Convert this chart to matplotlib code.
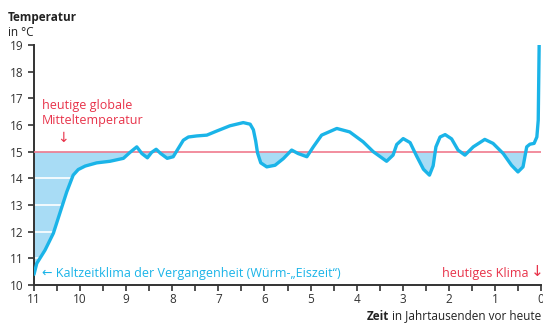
import numpy as np
import matplotlib.pyplot as plt

# Daten (Jahrtausende vor heute, Temperatur in °C)
zeit = [11.0, 10.94, 10.76, 10.58, 10.44, 10.29, 10.15, 10.04, 9.89, 9.64,
        9.35, 9.06, 8.92, 8.77, 8.66, 8.54, 8.45, 8.35, 8.25, 8.11,
        7.98, 7.87, 7.76, 7.65, 7.47, 7.25, 7.04, 6.75, 6.46, 6.31,
        6.24, 6.19, 6.15, 6.08, 5.95, 5.77, 5.59, 5.41, 5.27, 5.08,
        4.94, 4.76, 4.43, 4.15, 3.86, 3.64, 3.35, 3.21, 3.13, 2.99,
        2.84, 2.7, 2.55, 2.42, 2.34, 2.28, 2.19, 2.08, 1.94, 1.8,
        1.65, 1.47, 1.22, 1.04, 0.82, 0.64, 0.5, 0.39, 0.31, 0.24,
        0.15, 0.09, 0.06, 0.04]
temp = [10.4, 10.81, 11.31, 11.94, 12.69, 13.49, 14.12, 14.33, 14.46, 14.58,
        14.64, 14.75, 14.97, 15.18, 14.93, 14.77, 14.97, 15.09, 14.93, 14.75,
        14.81, 15.12, 15.43, 15.55, 15.59, 15.62, 15.77, 15.97, 16.09, 16.03,
        15.82, 15.4, 14.95, 14.58, 14.43, 14.49, 14.74, 15.06, 14.93, 14.81,
        15.18, 15.62, 15.87, 15.74, 15.37, 15.0, 14.64, 14.87, 15.27, 15.49,
        15.34, 14.84, 14.34, 14.12, 14.47, 15.18, 15.55, 15.64, 15.48, 15.06,
        14.87, 15.18, 15.46, 15.31, 14.93, 14.49, 14.24, 14.43, 15.18, 15.28,
        15.31, 15.55, 16.18, 19.0]
mittel = 15
yticks = [10, 11, 12, 13, 14, 15, 16, 17, 18, 19]
xticks = [11, 10, 9, 8, 7, 6, 5, 4, 3, 2, 1, 0]

blau = '#1ab4e8'
hellblau = '#a8dcf5'
rot = '#f07a8e'
textrot = '#e8334a'
grau = '#333333'

W, H = 543, 325
fig = plt.figure(figsize=(W / 100, H / 100), dpi=100)
plt.rcParams['font.family'] = ['Open Sans', 'DejaVu Sans']
ax = fig.add_axes([34 / W, 1 - 285 / H, 507 / W, 240 / H])

x = np.array(zeit)
y = np.array(temp)
ax.fill_between(x, y, mittel, where=y < mittel, interpolate=True,
                color=hellblau, lw=0, zorder=1)
for t in yticks[1:5]:
    ax.axhline(t, color='white', lw=1.2, zorder=2)
ax.axhline(mittel, color=rot, lw=1.2, zorder=3)
ax.plot(x, y, color=blau, lw=2.4, zorder=4, solid_capstyle='round',
        solid_joinstyle='round')

ax.set_xlim(11, 0)
ax.set_ylim(10, 19)
ax.set_xticks(xticks)
ax.set_xticks(np.arange(0.5, 11, 1), minor=True)
ax.set_yticks(yticks)
for s in ['top', 'right']:
    ax.spines[s].set_visible(False)
for s in ['left', 'bottom']:
    ax.spines[s].set_color(grau)
    ax.spines[s].set_linewidth(1.4)
ax.tick_params(axis='both', which='both', length=4, width=1.2, color=grau,
               labelsize=8.5, labelcolor=grau)
ax.tick_params(axis='x', pad=2)

def ftext(px, py, s, **kw):
    return fig.text(px / W, 1 - py / H, s, **kw)

ftext(8, 17, 'Temperatur', fontsize=8.5, fontweight='bold', color='#222222', va='center')
ftext(8, 33, 'in °C', fontsize=8.5, color='#222222', va='center')
ftext(42, 106, 'heutige globale', fontsize=9, color=textrot, va='center')
ftext(42, 121, 'Mitteltemperatur', fontsize=9, color=textrot, va='center')
ftext(63, 138, '↓', fontsize=10, color=textrot, va='center', ha='center',
      family=['DejaVu Sans'])
ftext(42, 273, '← Kaltzeitklima der Vergangenheit (Würm-„Eiszeit“)', fontsize=9,
      color=blau, va='center')
ftext(529, 273, 'heutiges Klima', fontsize=9, color=textrot, va='center', ha='right')
ftext(537.5, 272, '↓', fontsize=11, color=textrot, va='center', ha='center',
      family=['DejaVu Sans'])
rest = ftext(541, 316, 'in Jahrtausenden vor heute', fontsize=8.5, color='#222222',
             va='center', ha='right')
fig.canvas.draw()
bb = rest.get_window_extent()
ftext(bb.x0 - 3, 316, 'Zeit', fontsize=8.5, color='#222222', fontweight='bold',
      va='center', ha='right')

fig.savefig('out.png', dpi=100)
